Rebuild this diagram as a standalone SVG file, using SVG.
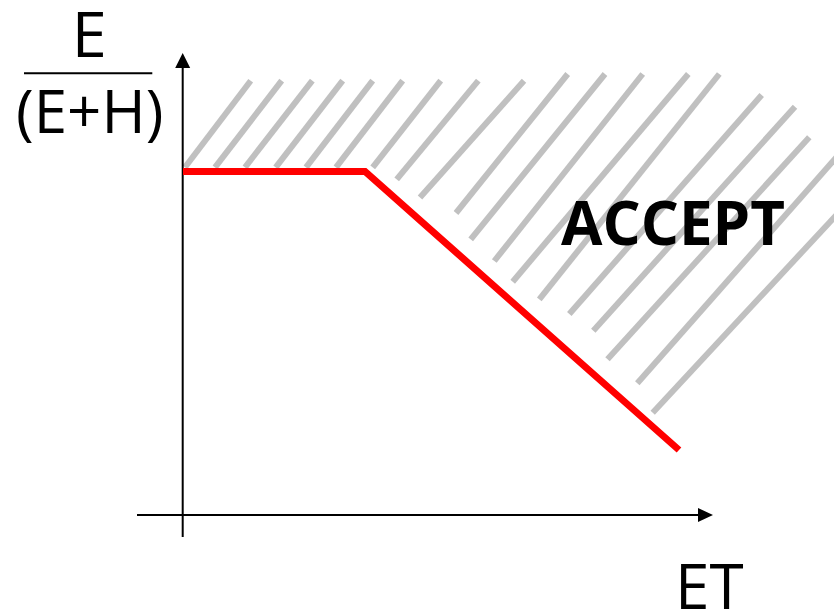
<svg xmlns="http://www.w3.org/2000/svg" width="834" height="612" viewBox="0 0 834 612">
<style>
.hatch line{stroke:#c0c0c0;stroke-width:6;stroke-linecap:butt}
.axis{stroke:#000;stroke-width:2;fill:none}
.lbl{font-family:"Open Sans","DejaVu Sans",sans-serif;fill:#000}
</style>
<rect width="834" height="612" fill="#fff"/>
<g id="accept-region" class="hatch">
<line x1="185" y1="167.3" x2="250.7" y2="80.7"/>
<line x1="215" y1="167.3" x2="281.7" y2="80.7"/>
<line x1="245" y1="167.3" x2="312.3" y2="80.7"/>
<line x1="275.7" y1="167.3" x2="342.7" y2="80.7"/>
<line x1="306" y1="167.3" x2="372.7" y2="80.7"/>
<line x1="336" y1="167.3" x2="402.7" y2="80.7"/>
<line x1="372.7" y1="167.3" x2="440.7" y2="80.7"/>
<line x1="396.7" y1="179.3" x2="478.3" y2="80.7"/>
<line x1="420" y1="197.5" x2="524" y2="80.7"/>
<line x1="456" y1="213" x2="567.7" y2="74"/>
<line x1="470.7" y1="239.3" x2="605" y2="74"/>
<line x1="494.3" y1="261" x2="642.7" y2="74"/>
<line x1="512.7" y1="281.7" x2="688.3" y2="74"/>
<line x1="539.3" y1="299.3" x2="719.3" y2="74"/>
<line x1="569.3" y1="314" x2="761.7" y2="95"/>
<line x1="593.3" y1="330.7" x2="795" y2="106.7"/>
<line x1="607.5" y1="359.3" x2="809.3" y2="137.3"/>
<line x1="637.3" y1="383.3" x2="842" y2="151"/>
<line x1="652.7" y1="412.7" x2="842" y2="209"/>
</g>
<g id="axes">
<line class="axis" x1="182.7" y1="537" x2="182.7" y2="66"/>
<polygon points="182.7,53 175.2,68 190.2,68" fill="#000"/>
<line class="axis" x1="137" y1="515" x2="700" y2="515"/>
<polygon points="713,515 698,508 698,522" fill="#000"/>
</g>
<g id="threshold">
<polyline points="183,171.5 365,171.5 679,450" fill="none" stroke="#ff0000" stroke-width="7" stroke-linejoin="miter" stroke-linecap="butt"/>
</g>
<g id="y-label">
<text class="lbl" x="89.3" y="56.7" font-size="63" text-anchor="middle">E</text>
<line x1="24" y1="73.3" x2="152.3" y2="73.3" stroke="#000" stroke-width="2"/>
<text class="lbl" x="89.7" y="132.7" font-size="60" text-anchor="middle">(E+H)</text>
</g>
<g id="x-label">
<text class="lbl" x="675" y="609" font-size="62">ET</text>
</g>
<g id="accept-label">
<text class="lbl" x="561" y="245" font-size="61" font-weight="bold" textLength="224" lengthAdjust="spacingAndGlyphs">ACCEPT</text>
</g>
</svg>
